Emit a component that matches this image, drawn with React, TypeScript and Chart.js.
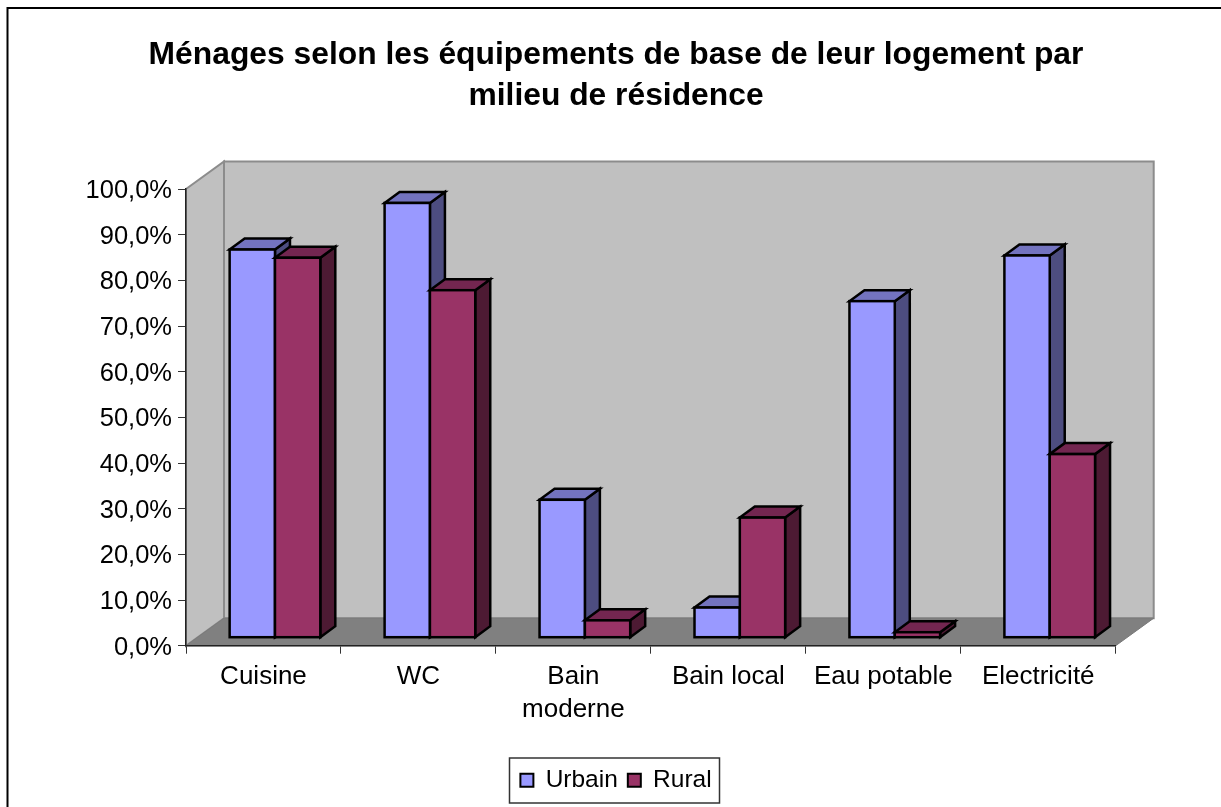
import React, { useEffect, useRef } from "react";
import { Chart, registerables } from "chart.js";

Chart.register(...registerables);

const titleLines = ["Ménages selon les équipements de base de leur logement par", "milieu de résidence"];
const categories: (string | string[])[] = ["Cuisine", "WC", ["Bain", "moderne"], "Bain local", "Eau potable", "Electricité"];
const urbain = [85.0, 95.2, 30.2, 6.6, 73.7, 83.7];
const rural = [83.2, 76.1, 3.8, 26.3, 1.2, 40.2];
const FONT = "'Liberation Sans', Arial, sans-serif";

const faces: Record<string, { top: string; side: string }> = {
  Urbain: { top: "#7373BF", side: "#4D4D80" },
  Rural: { top: "#732650", side: "#4D1A33" },
};

const WALL = { dx: 38, dy: -27.5 };
const BAR_SHIFT = { dx: 11.5, dy: -8 };
const BAR_DEPTH = { dx: 15, dy: -11 };
const BAR_LINE = 2.5;

function poly(ctx: CanvasRenderingContext2D, pts: number[][], fill: string | null, stroke: string | null, lw = 2) {
  ctx.beginPath();
  pts.forEach((p, i) => (i ? ctx.lineTo(p[0], p[1]) : ctx.moveTo(p[0], p[1])));
  ctx.closePath();
  if (fill) { ctx.fillStyle = fill; ctx.fill(); }
  if (stroke) { ctx.strokeStyle = stroke; ctx.lineWidth = lw; ctx.lineJoin = "miter"; ctx.stroke(); }
}

const scene3d = {
  id: "scene3d",
  afterLayout(chart: any) {
    const t = chart.titleBlock;
    t.left = 11; t.right = 1221;
    const l = chart.legend;
    l.left = 416; l.right = 816; l.top = 758;
  },
  beforeDraw(chart: any) {
    const ctx: CanvasRenderingContext2D = chart.ctx;
    const left = chart.scales.x.left, right = chart.scales.x.right;
    const top = chart.scales.y.top, bottom = chart.scales.y.bottom;
    chart.scales.y.getLabelItems().forEach((it: any) => {
      if (!it.nudged) { it.textOffset += 2; it.nudged = true; }
    });
    ctx.save();
    ctx.fillStyle = "#fff";
    ctx.fillRect(0, 0, chart.width, chart.height);
    ctx.strokeStyle = "#000";
    ctx.lineWidth = 2;
    ctx.beginPath();
    ctx.moveTo(7.5, chart.height);
    ctx.lineTo(7.5, 8);
    ctx.lineTo(chart.width, 8);
    ctx.stroke();
    const { dx, dy } = WALL;
    poly(ctx, [[left + dx, top + dy], [right + dx, top + dy], [right + dx, bottom + dy], [left + dx, bottom + dy]], "#C0C0C0", "#8C8C8C");
    poly(ctx, [[left, top], [left + dx, top + dy], [left + dx, bottom + dy], [left, bottom]], "#C0C0C0", "#8C8C8C");
    poly(ctx, [[left, bottom], [left + dx, bottom + dy], [right + dx, bottom + dy], [right, bottom]], "#808080", "#7A7A7A", 1);
    ctx.restore();
  },
  beforeDatasetsDraw(chart: any) {
    const ctx: CanvasRenderingContext2D = chart.ctx;
    const { dx, dy } = BAR_DEPTH;
    ctx.save();
    ctx.translate(BAR_SHIFT.dx, BAR_SHIFT.dy);
    chart.data.datasets.forEach((ds: any, i: number) => {
      const meta = chart.getDatasetMeta(i);
      const f = faces[ds.label];
      meta.data.forEach((el: any) => {
        const l = el.x - el.width / 2, r = el.x + el.width / 2, t = el.y, b = el.base;
        poly(ctx, [[r, b], [r + dx, b + dy], [r + dx, t + dy], [r, t]], f.side, "#000", BAR_LINE);
        poly(ctx, [[l, t], [l + dx, t + dy], [r + dx, t + dy], [r, t]], f.top, "#000", BAR_LINE);
      });
      meta.controller.draw();
      meta.data.forEach((el: any) => {
        ctx.strokeStyle = "#000";
        ctx.lineWidth = BAR_LINE;
        ctx.lineJoin = "miter";
        ctx.strokeRect(el.x - el.width / 2, el.y, el.width, el.base - el.y);
      });
    });
    ctx.restore();
    return false;
  },
  afterDraw(chart: any) {
    const ctx: CanvasRenderingContext2D = chart.ctx;
    ctx.save();
    ctx.strokeStyle = "#333";
    ctx.lineWidth = 1.5;
    ctx.strokeRect(509.5, 758, 210, 45);
    ctx.restore();
  },
};

export default function App() {
  const ref = useRef<HTMLCanvasElement>(null);
  useEffect(() => {
    document.body.style.margin = "0";
    const chart = new Chart(ref.current as HTMLCanvasElement, {
      type: "bar",
      plugins: [scene3d],
      data: {
        labels: categories as any,
        datasets: [
          { label: "Urbain", data: urbain, backgroundColor: "#9999FF", borderWidth: 0 },
          { label: "Rural", data: rural, backgroundColor: "#993366", borderWidth: 0 },
        ],
      },
      options: {
        responsive: false,
        animation: false,
        layout: { padding: { left: 11, right: 105.3, top: 0, bottom: 0 } },
        datasets: { bar: { categoryPercentage: 0.585, barPercentage: 1 } },
        plugins: {
          tooltip: { enabled: false },
          title: {
            display: true,
            text: titleLines,
            color: "#000",
            font: { family: FONT, size: 31.8, weight: "bold", lineHeight: 1.29 },
            padding: { top: 35, bottom: 72 },
          },
          legend: {
            position: "bottom",
            labels: {
              color: "#000",
              font: { family: FONT, size: 24.5 },
              boxWidth: 13,
              boxHeight: 13,
              padding: 10,
              generateLabels(c: any) {
                return Chart.defaults.plugins.legend.labels.generateLabels(c).map((it: any) => ({
                  ...it,
                  lineWidth: 2,
                  strokeStyle: "#000",
                }));
              },
            },
          },
        },
        scales: {
          x: {
            offset: true,
            afterFit(s: any) { s.height = 116.8; },
            grid: { offset: true, drawOnChartArea: false, drawTicks: true, tickLength: 8, color: "#333" },
            border: { color: "#222", width: 1.5 },
            ticks: { color: "#000", font: { family: FONT, size: 26, lineHeight: 1.27 }, maxRotation: 0, autoSkip: false, padding: 7 },
          },
          y: {
            min: 0,
            max: 100,
            afterFit(s: any) { s.width = 175; },
            grid: { drawOnChartArea: false, drawTicks: true, tickLength: 8, color: "#333" },
            border: { color: "#222", width: 1.5 },
            ticks: {
              stepSize: 10,
              color: "#000",
              font: { family: FONT, size: 25.5 },
              padding: 6,
              callback: (v: any) => Number(v).toFixed(1).replace(".", ",") + "%",
            },
          },
        },
      } as any,
    });
    return () => chart.destroy();
  }, []);
  return <canvas ref={ref} width={1221} height={807} style={{ display: "block", width: 1221, height: 807 }} />;
}
